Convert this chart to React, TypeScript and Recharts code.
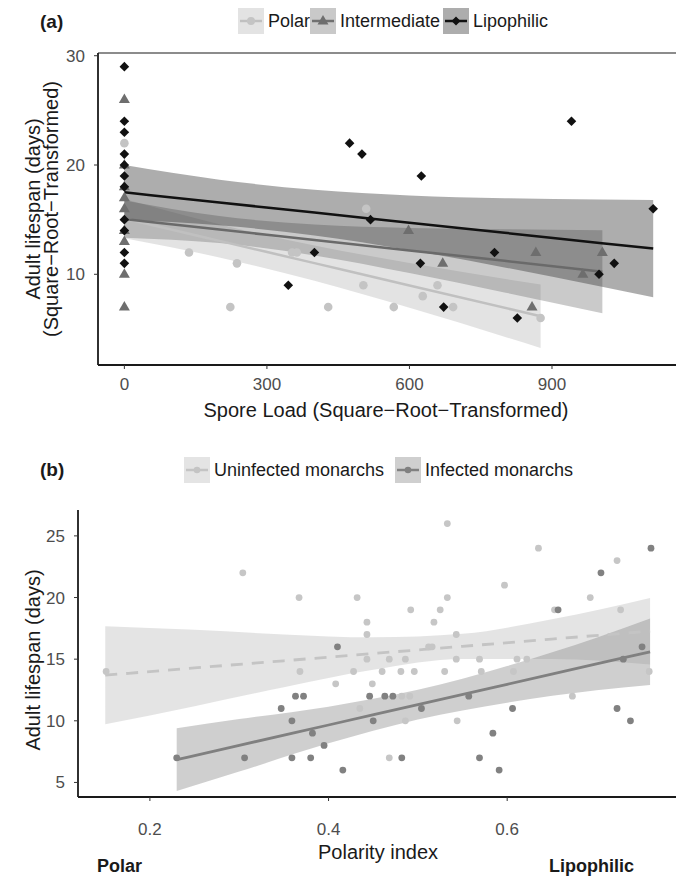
import React from 'react';
import {
  ComposedChart,
  Area,
  Line,
  Scatter,
  XAxis,
  YAxis,
  ReferenceLine,
} from 'recharts';

// ---- panel (a): spore load vs lifespan ----
const sporeTicks = [0, 300, 600, 900];
const lifeTicksA = [10, 20, 30];

const polarSpore = [0, 136, 223, 237, 353, 363, 429, 503, 509, 567, 628, 659, 692, 876];
const polarLife = [22, 12, 7, 11, 12, 12, 7, 9, 16, 7, 8, 9, 7, 6];

const interSpore = [0, 0, 0, 0, 0, 0, 0, 0, 0, 598, 670, 858, 866, 965, 1006];
const interLife = [26, 20, 18, 17, 16, 14, 13, 10, 7, 14, 11, 7, 12, 10, 12];

const lipoSpore = [0, 0, 0, 0, 0, 0, 0, 0, 0, 0, 0, 345, 400, 474, 500, 518, 623, 625, 672, 779, 827, 941, 999, 1031, 1113];
const lipoLife = [29, 24, 23, 21, 20, 19, 18, 15, 14, 12, 11, 9, 12, 22, 21, 15, 11, 19, 7, 12, 6, 24, 10, 11, 16];

const polarFitX = [0, 200, 400, 600, 876];
const polarFit = [15.1, 13.06, 11.02, 8.98, 6.16];
const polarLo = [13.3, 11.54, 9.4, 6.93, 3.26];
const polarHi = [16.9, 14.58, 12.64, 11.03, 9.06];

const interFitX = [0, 200, 400, 600, 800, 1006];
const interFit = [15.05, 14.09, 13.14, 12.18, 11.23, 10.24];
const interLo = [13.35, 12.86, 11.73, 10.12, 8.34, 6.44];
const interHi = [16.75, 15.33, 14.55, 14.24, 14.12, 14.04];

const lipoFitX = [0, 200, 400, 600, 800, 1000, 1113];
const lipoFit = [17.5, 16.57, 15.65, 14.72, 13.8, 12.87, 12.35];
const lipoLo = [15.0, 14.49, 13.56, 12.22, 10.63, 8.9, 7.9];
const lipoHi = [20.0, 18.66, 17.73, 17.22, 16.97, 16.84, 16.8];

// ---- panel (b): polarity index vs lifespan ----
const polarityTicks = [0.2, 0.4, 0.6];
const lifeTicksB = [5, 10, 15, 20, 25];

const uninfX = [0.151, 0.304, 0.367, 0.432, 0.443, 0.443, 0.443, 0.368, 0.428, 0.46, 0.408, 0.449, 0.435, 0.533, 0.635, 0.723, 0.597, 0.533, 0.693, 0.492, 0.525, 0.653, 0.727, 0.518, 0.543, 0.512, 0.516, 0.468, 0.486, 0.543, 0.569, 0.611, 0.622, 0.481, 0.496, 0.53, 0.571, 0.607, 0.759, 0.482, 0.491, 0.673, 0.486, 0.544, 0.468];
const uninfY = [14, 22, 20, 20, 18, 17, 15, 14, 14, 14, 13, 13, 11, 26, 24, 23, 21, 20, 20, 19, 19, 19, 19, 18, 17, 16, 16, 15, 15, 15, 15, 15, 15, 14, 14, 14, 14, 14, 14, 12, 12, 12, 10, 10, 7];

const infX = [0.41, 0.363, 0.372, 0.446, 0.347, 0.359, 0.45, 0.382, 0.395, 0.23, 0.306, 0.359, 0.38, 0.416, 0.761, 0.705, 0.657, 0.751, 0.73, 0.463, 0.472, 0.557, 0.504, 0.606, 0.723, 0.738, 0.584, 0.482, 0.569, 0.591];
const infY = [16, 12, 12, 12, 11, 10, 10, 9, 8, 7, 7, 7, 7, 6, 24, 22, 19, 16, 15, 12, 12, 12, 11, 11, 11, 10, 9, 7, 7, 6];

const uninfFitX = [0.15, 0.25, 0.35, 0.45, 0.55, 0.65, 0.76];
const uninfFit = [13.7, 14.29, 14.87, 15.46, 16.04, 16.63, 17.27];
const uninfLo = [9.72, 11.19, 12.73, 14.15, 15.02, 15.02, 14.57];
const uninfHi = [17.68, 17.39, 17.01, 16.77, 17.06, 18.24, 19.97];

const infFitX = [0.23, 0.3, 0.4, 0.5, 0.6, 0.7, 0.76];
const infFit = [6.85, 8.01, 9.66, 11.31, 12.96, 14.61, 15.6];
const infLo = [4.3, 5.88, 8.17, 10.11, 11.47, 12.48, 12.9];
const infHi = [9.4, 10.14, 11.15, 12.51, 14.45, 16.74, 18.3];

const FONT = '"Liberation Sans", Arial, Helvetica, sans-serif';

const pts = (xs: number[], ys: number[]) => xs.map((x, i) => ({ x, y: ys[i] }));
const fit = (xs: number[], f: number[], lo: number[], hi: number[]) =>
  xs.map((x, i) => ({ x, fit: f[i], band: [lo[i], hi[i]] }));

const circleShape = (fill: string, r: number) => (p: any) =>
  <circle cx={p.cx} cy={p.cy} r={r} fill={fill} />;
const triangleShape = (fill: string) => (p: any) => (
  <polygon
    points={`${p.cx},${p.cy - 6} ${p.cx + 5.5},${p.cy + 3.5} ${p.cx - 5.5},${p.cy + 3.5}`}
    fill={fill}
  />
);
const diamondShape = (fill: string) => (p: any) => (
  <polygon
    points={`${p.cx},${p.cy - 4.8} ${p.cx + 4.8},${p.cy} ${p.cx},${p.cy + 4.8} ${p.cx - 4.8},${p.cy}`}
    fill={fill}
  />
);

const axisLine = { stroke: '#1a1a1a', strokeWidth: 1.8 };
const tickLine = { stroke: '#333', strokeWidth: 1 };
const tickText = { fill: '#4d4d4d', fontSize: 17, fontFamily: FONT };

function Key({ bg, line, dash, mark }: { bg: string; line: string; dash?: string; mark: React.ReactNode }) {
  return (
    <svg width={26} height={26} style={{ display: 'block' }}>
      <rect width={26} height={26} fill={bg} />
      <line x1={2} x2={24} y1={13} y2={13} stroke={line} strokeWidth={2.5} strokeDasharray={dash} />
      {mark}
    </svg>
  );
}

function LegendItem({ left, top, label, children }: { left: number; top: number; label: string; children: React.ReactNode }) {
  return (
    <div style={{ position: 'absolute', left, top, display: 'flex', alignItems: 'center', gap: 4 }}>
      {children}
      <span style={{ fontSize: 18, color: '#1a1a1a', whiteSpace: 'nowrap' }}>{label}</span>
    </div>
  );
}

function Text({ x, y, children, size = 20, bold = false, rotate = false, align = 'center' }: any) {
  const tx = align === 'center' ? '-50%' : align === 'right' ? '-100%' : '0';
  return (
    <div
      style={{
        position: 'absolute',
        left: x,
        top: y,
        transform: `translate(${tx}, -50%)${rotate ? ' rotate(-90deg)' : ''}`,
        fontSize: size,
        fontWeight: bold ? 700 : 400,
        color: '#1a1a1a',
        whiteSpace: 'nowrap',
        lineHeight: 0.9,
        textAlign: 'center',
      }}
    >
      {children}
    </div>
  );
}

export default function App() {
  const polarPts = pts(polarSpore, polarLife);
  const interPts = pts(interSpore, interLife);
  const lipoPts = pts(lipoSpore, lipoLife);
  const polarBand = fit(polarFitX, polarFit, polarLo, polarHi);
  const interBand = fit(interFitX, interFit, interLo, interHi);
  const lipoBand = fit(lipoFitX, lipoFit, lipoLo, lipoHi);

  const uninfPts = pts(uninfX, uninfY);
  const infPts = pts(infX, infY);
  const uninfBand = fit(uninfFitX, uninfFit, uninfLo, uninfHi);
  const infBand = fit(infFitX, infFit, infLo, infHi);

  return (
    <div
      style={{
        position: 'absolute',
        left: 0,
        top: 0,
        width: 676,
        height: 880,
        overflow: 'hidden',
        background: '#fff',
        fontFamily: FONT,
      }}
    >
      {/* panel (a) */}
      <Text x={40} y={22} size={19} bold align="left">(a)</Text>
      <LegendItem left={238} top={8} label="Polar">
        <Key bg="#e3e3e3" line="#c0c0c0" mark={<circle cx={13} cy={13} r={4} fill="#c4c4c4" />} />
      </LegendItem>
      <LegendItem left={310} top={8} label="Intermediate">
        <Key bg="#c9c9c9" line="#707070" mark={<polygon points="13,7 18.5,16.5 7.5,16.5" fill="#6e6e6e" />} />
      </LegendItem>
      <LegendItem left={443} top={8} label="Lipophilic">
        <Key bg="#adadad" line="#111" mark={<polygon points="13,8.5 17.5,13 13,17.5 8.5,13" fill="#111" />} />
      </LegendItem>

      <div style={{ position: 'absolute', left: 0, top: 0 }}>
        <ComposedChart width={676} height={395} margin={{ top: 53, right: 0, bottom: 0, left: 38 }}>
          <XAxis
            type="number"
            dataKey="x"
            domain={[-55.5, 1161]}
            ticks={sporeTicks}
            allowDataOverflow
            height={30}
            tickSize={4}
            tickMargin={9}
            axisLine={axisLine}
            tickLine={tickLine}
            tick={tickText}
          />
          <YAxis
            type="number"
            domain={[1.7, 30.25]}
            ticks={lifeTicksA}
            allowDataOverflow
            width={60}
            tickSize={4}
            tickMargin={9}
            axisLine={axisLine}
            tickLine={tickLine}
            tick={tickText}
          />
          <ReferenceLine y={30.25} stroke="#666" strokeWidth={1.5} />
          <Scatter data={polarPts} dataKey="y" shape={circleShape('#c4c4c4', 4.3)} isAnimationActive={false} />
          <Scatter data={interPts} dataKey="y" shape={triangleShape('#6e6e6e')} isAnimationActive={false} />
          <Scatter data={lipoPts} dataKey="y" shape={diamondShape('#111')} isAnimationActive={false} />
          <Area data={polarBand} dataKey="band" type="monotone" stroke="none" fill="#b0b0b0" fillOpacity={0.35} isAnimationActive={false} />
          <Line data={polarBand} dataKey="fit" type="monotone" stroke="#c0c0c0" strokeWidth={2.5} dot={false} isAnimationActive={false} />
          <Area data={interBand} dataKey="band" type="monotone" stroke="none" fill="#666" fillOpacity={0.35} isAnimationActive={false} />
          <Line data={interBand} dataKey="fit" type="monotone" stroke="#6a6a6a" strokeWidth={2.5} dot={false} isAnimationActive={false} />
          <Area data={lipoBand} dataKey="band" type="monotone" stroke="none" fill="#333" fillOpacity={0.4} isAnimationActive={false} />
          <Line data={lipoBand} dataKey="fit" type="monotone" stroke="#111" strokeWidth={2.5} dot={false} isAnimationActive={false} />
        </ComposedChart>
      </div>

      <Text x={386} y={410}>Spore Load (Square&minus;Root&minus;Transformed)</Text>
      <Text x={42} y={209} rotate>
        Adult lifespan (days)
        <br />
        (Square&minus;Root&minus;Transformed)
      </Text>

      {/* panel (b) */}
      <Text x={40} y={470} size={19} bold align="left">(b)</Text>
      <LegendItem left={184} top={457} label="Uninfected monarchs">
        <Key bg="#e4e4e4" line="#c4c4c4" mark={<circle cx={13} cy={13} r={3.3} fill="#c4c4c4" />} />
      </LegendItem>
      <LegendItem left={395} top={457} label="Infected monarchs">
        <Key bg="#cfcfcf" line="#808080" mark={<circle cx={13} cy={13} r={3.3} fill="#808080" />} />
      </LegendItem>

      <div style={{ position: 'absolute', left: 0, top: 440 }}>
        <ComposedChart width={676} height={417} margin={{ top: 70, right: 0, bottom: 0, left: 18 }}>
          <XAxis
            type="number"
            dataKey="x"
            domain={[0.1195, 0.789]}
            ticks={polarityTicks}
            allowDataOverflow
            height={60}
            tickSize={4}
            tickMargin={22}
            axisLine={axisLine}
            tickLine={tickLine}
            tick={tickText}
          />
          <YAxis
            type="number"
            domain={[3.82, 27.1]}
            ticks={lifeTicksB}
            allowDataOverflow
            width={60}
            tickSize={4}
            tickMargin={9}
            axisLine={axisLine}
            tickLine={tickLine}
            tick={tickText}
          />
          <Area data={uninfBand} dataKey="band" type="monotone" stroke="none" fill="#bbb" fillOpacity={0.4} isAnimationActive={false} />
          <Area data={infBand} dataKey="band" type="monotone" stroke="none" fill="#888" fillOpacity={0.4} isAnimationActive={false} />
          <Scatter data={uninfPts} dataKey="y" shape={circleShape('#c6c6c6', 3.4)} isAnimationActive={false} />
          <Scatter data={infPts} dataKey="y" shape={circleShape('#818181', 3.4)} isAnimationActive={false} />
          <Line data={uninfBand} dataKey="fit" type="monotone" stroke="#c4c4c4" strokeWidth={2.8} strokeDasharray="12 9" dot={false} isAnimationActive={false} />
          <Line data={infBand} dataKey="fit" type="monotone" stroke="#808080" strokeWidth={2.8} dot={false} isAnimationActive={false} />
        </ComposedChart>
      </div>

      <Text x={378} y={852}>Polarity index</Text>
      <Text x={97} y={866} size={18} bold align="left">Polar</Text>
      <Text x={634} y={866} size={18} bold align="right">Lipophilic</Text>
      <Text x={33} y={660} rotate>Adult lifespan (days)</Text>
    </div>
  );
}
